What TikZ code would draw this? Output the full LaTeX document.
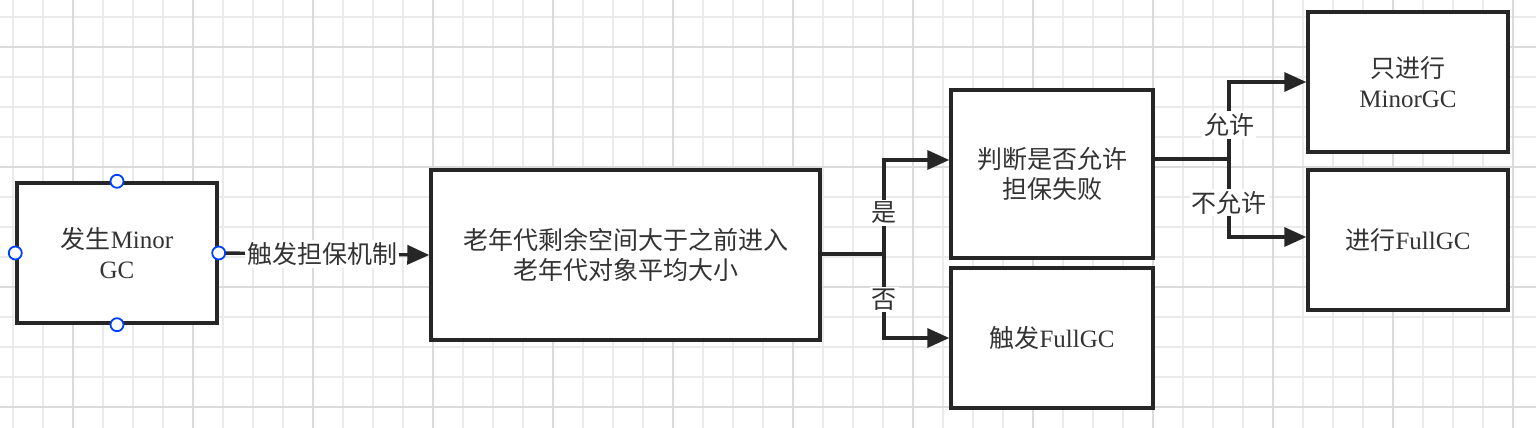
\documentclass[tikz,border=0pt]{standalone}
\usepackage{fontspec}
\setmainfont{Liberation Serif}
\newfontfamily\cjk{Noto Sans CJK SC}
\usetikzlibrary{arrows.meta}

\begin{document}
\begin{tikzpicture}[x=1pt,y=-1pt]
\tikzstyle{box} = [rectangle, minimum width=200pt, minimum height=140pt, align=center, draw=black!85, line width=3.4pt, fill=white, text=black!80, font=\fontsize{25}{30}\selectfont]
\tikzstyle{line} = [draw=black!85, line width=3.4pt]
\tikzstyle{arrow} = [line, -{Triangle[length=22pt, width=19pt]}]
\tikzstyle{lbl} = [fill=white, inner sep=2pt, text=black!80, font=\cjk\fontsize{25}{27}\selectfont]
\tikzstyle{handle} = [circle, draw=blue!75!cyan, fill=white, line width=1.8pt, minimum size=13pt, inner sep=0pt]

\useasboundingbox (0,0) rectangle (1536,428);
\fill[white] (0,0) rectangle (1536,428);
\foreach \x in {13,43,...,1536} \draw[black!8, line width=1.3pt] (\x,0) -- (\x,428);
\foreach \y in {17,47,...,428} \draw[black!8, line width=1.3pt] (0,\y) -- (1536,\y);
\foreach \x in {73,193,...,1536} \draw[black!14, line width=1.3pt] (\x,0) -- (\x,428);
\foreach \y in {47,167,...,428} \draw[black!14, line width=1.3pt] (0,\y) -- (1536,\y);

\node (minor) [box] at (117,253) {{\cjk 发生}Minor\\GC};
\node (cond) [box, minimum width=389pt, minimum height=170pt] at (625.5,255) {{\cjk 老年代剩余空间大于之前进入}\\{\cjk 老年代对象平均大小}};
\node (judge) [box, minimum width=202pt, minimum height=168pt] at (1052,174) {{\cjk 判断是否允许}\\{\cjk 担保失败}};
\node (fail) [box, minimum width=202pt] at (1052,338) {{\cjk 触发}FullGC};
\node (onlyminor) [box] at (1408,82) {{\cjk 只进行}\\MinorGC};
\node (dofull) [box] at (1408,240) {{\cjk 进行}FullGC};

\coordinate (split1) at (884,254);
\coordinate (split2) at (1229,159);

\draw [arrow] (minor.east) -- node[lbl, xshift=-2pt] {触发担保机制} (cond.west);
\draw [line] (cond.east |- split1) -- (split1);
\draw [arrow] (split1) |- node[lbl, pos=0.22] {是} ([yshift=14pt]judge.west);
\draw [arrow] (split1) |- node[lbl, pos=0.27] {否} (fail.west);
\draw [line] ([yshift=15pt]judge.east) -- (split2);
\draw [arrow] (split2) |- node[lbl, pos=0.22] {允许} (onlyminor.west);
\draw [arrow] (split2) |- node[lbl, pos=0.28] {不允许} ([yshift=3pt]dofull.west);

\node (hn) [handle] at (minor.north) {};
\node (hs) [handle] at (minor.south) {};
\node (hw) [handle] at (minor.west) {};
\node (he) [handle] at (minor.east) {};
\end{tikzpicture}
\end{document}
